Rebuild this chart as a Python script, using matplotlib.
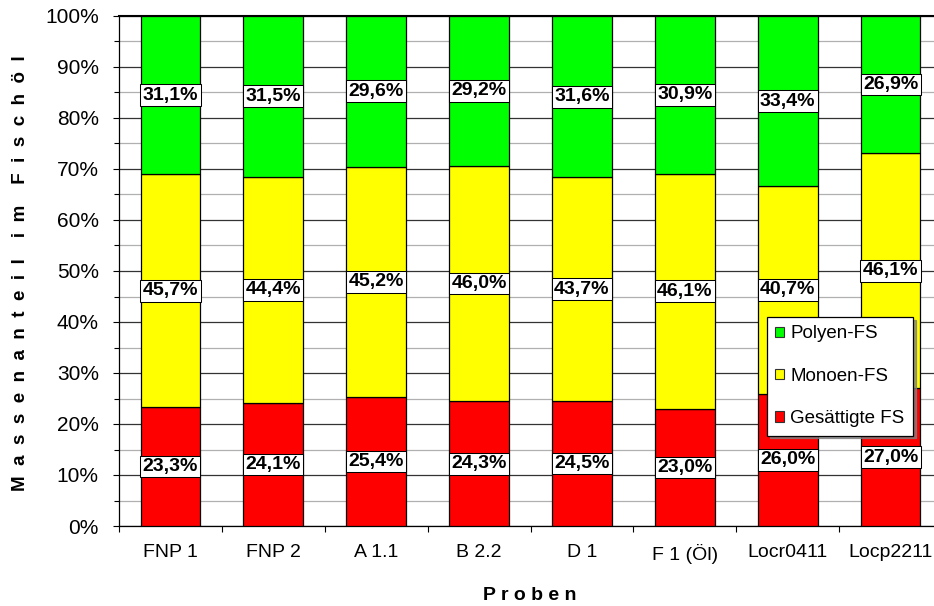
import matplotlib
matplotlib.use("Agg")
import matplotlib.pyplot as plt
from matplotlib.ticker import MultipleLocator, FuncFormatter, FixedLocator
from matplotlib.patches import Patch
import numpy as np

plt.rcParams['font.family'] = ['Liberation Sans', 'DejaVu Sans']

samples = ["FNP 1", "FNP 2", "A 1.1", "B 2.2", "D 1", "F 1 (Öl)", "Locr0411", "Locp2211"]
saturated = [23.3, 24.1, 25.4, 24.3, 24.5, 23.0, 26.0, 27.0]
monoen = [45.7, 44.4, 45.2, 46.0, 43.7, 46.1, 40.7, 46.1]
polyen = [31.1, 31.5, 29.6, 29.2, 31.6, 30.9, 33.4, 26.9]

series = [
    ("Gesättigte FS", saturated, "#ff0000"),
    ("Monoen-FS", monoen, "#ffff00"),
    ("Polyen-FS", polyen, "#00ff00"),
]

W, H = 934, 606
fig = plt.figure(figsize=(W / 100, H / 100), dpi=100)
left, right, bottom, top = 119, 942, 526, 16
ax = fig.add_axes([left / W, 1 - bottom / H, (right - left) / W, (bottom - top) / H])

x = np.arange(len(samples))
totals = np.array(saturated) + np.array(monoen) + np.array(polyen)
base = np.zeros(len(samples))
for name, vals, color in series:
    share = np.array(vals) / totals * 100
    bars = ax.bar(x, share, bottom=base, width=0.58, color=color,
                  edgecolor="black", linewidth=0.9, zorder=3, label=name)
    labels = [f"{v:.1f}%".replace(".", ",") for v in vals]
    ax.bar_label(bars, labels=labels, label_type="center", fontsize=14,
                 fontweight="bold", zorder=5,
                 bbox=dict(boxstyle="square,pad=0.12", facecolor="white",
                           edgecolor="black", linewidth=0.75))
    base += share

ax.set_xlim(-0.5, len(samples) - 0.5)
ax.set_ylim(0, 100)

# y axis: labelled ticks every 10 %, minor ticks and light grid every 5 %
ax.yaxis.set_major_locator(MultipleLocator(10))
ax.yaxis.set_minor_locator(MultipleLocator(5))
ax.yaxis.set_major_formatter(FuncFormatter(lambda v, p: f"{v:.0f}%"))
ax.grid(axis="y", which="major", color="#333333", linewidth=0.9, zorder=0)
ax.grid(axis="y", which="minor", color="#b0b0b0", linewidth=0.9, zorder=0)
ax.tick_params(axis="y", which="major", length=4.5, width=0.8, labelsize=15, pad=10)
ax.tick_params(axis="y", which="minor", length=3.5, width=0.8)

# x axis: tick marks between the samples, names centred under the bars
ax.xaxis.set_major_locator(FixedLocator(np.arange(-0.5, len(samples), 1.0)))
ax.xaxis.set_major_formatter(FuncFormatter(lambda v, p: ""))
ax.xaxis.set_minor_locator(FixedLocator(x))
ax.set_xticklabels(samples, minor=True)
ax.tick_params(axis="x", which="major", length=4.5, width=0.8, direction="out")
ax.tick_params(axis="x", which="minor", length=0, labelsize=14, pad=13)

ax.spines["right"].set_visible(False)
ax.spines["top"].set_linewidth(1.5)
ax.spines["left"].set_linewidth(0.9)
ax.spines["bottom"].set_linewidth(0.9)
ax.set_axisbelow(True)

ylabel_words = ["Massenanteil", "im", "Fischöl"]
ylabel = "    ".join("  ".join(w) for w in ylabel_words)
fig.text(21 / W, 1 - 273 / H, ylabel, rotation=90, ha="center", va="center",
         fontsize=13.5, fontweight="bold")
fig.text(530 / W, 1 - 596 / H, " ".join("Proben"), ha="center", va="center",
         fontsize=14, fontweight="bold")

handles = [Patch(facecolor=c, edgecolor="#333333", linewidth=0.8) for _, _, c in series[::-1]]
names = [n for n, _, _ in series[::-1]]
leg = ax.legend(handles, names, loc="upper left",
                bbox_to_anchor=((767 - left) / (right - left), (bottom - 317) / (bottom - top)),
                fontsize=13.5, frameon=True, fancybox=False,
                shadow={"ox": 2, "oy": -2, "color": "#808080", "alpha": 0.8},
                handlelength=0.48, handleheight=0.48, handletextpad=0.32,
                labelspacing=1.35, borderpad=0.45, borderaxespad=0)
leg.get_frame().set_edgecolor("black")
leg.get_frame().set_linewidth(0.9)
leg.set_zorder(10)

fig.savefig("out.png", dpi=100)
